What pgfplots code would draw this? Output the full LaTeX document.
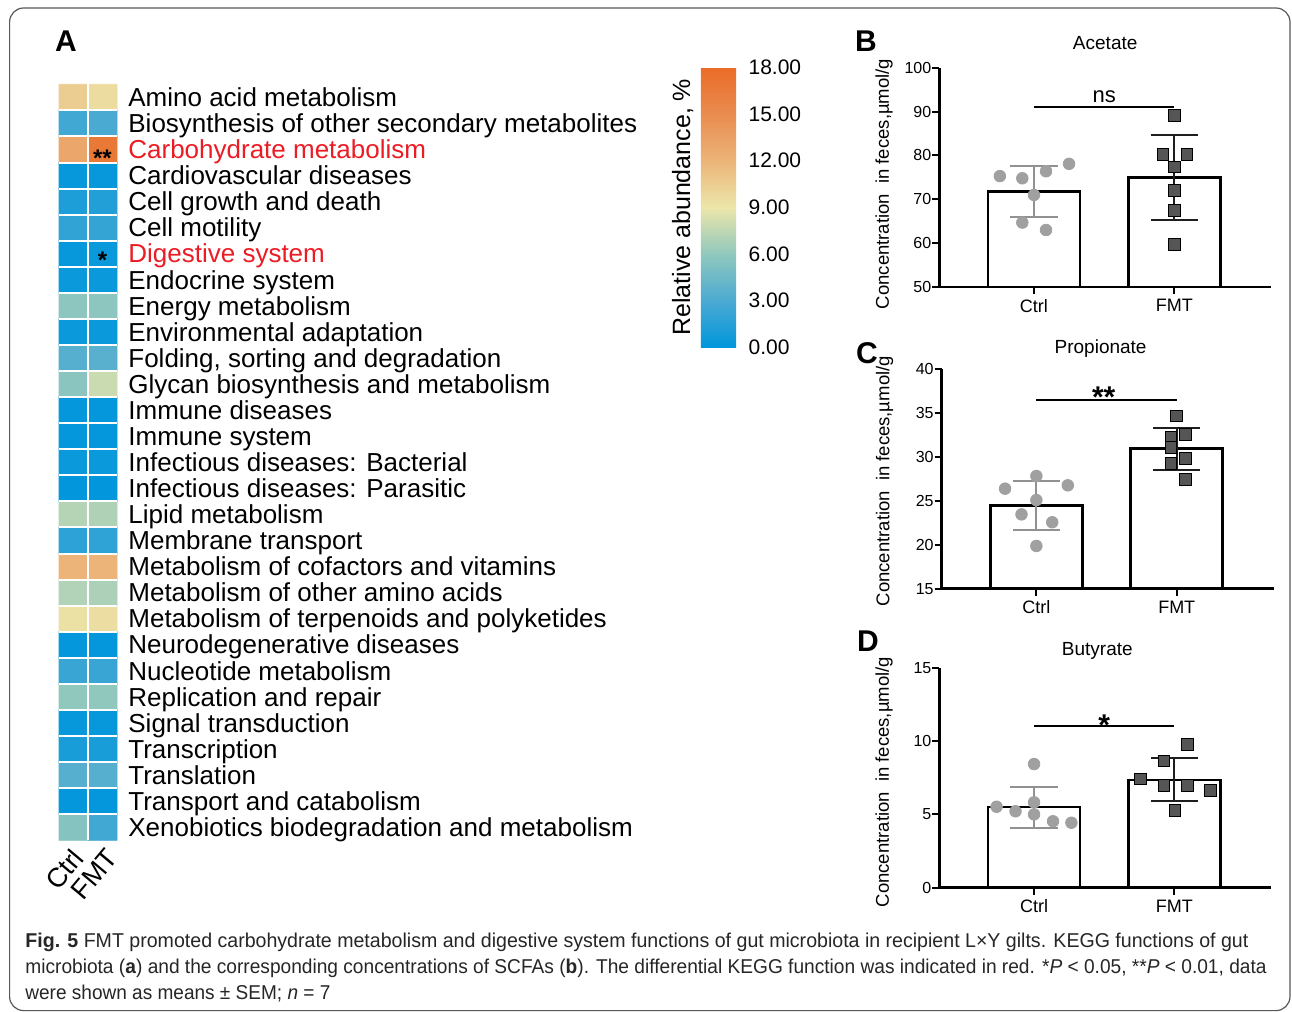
\documentclass[border=0pt]{standalone}
\usepackage{pgfplots}
\pgfplotsset{compat=1.18}
\usepackage{pgfplotstable}
\usepackage{graphicx}
\usepackage{fontspec}
\setmainfont{Liberation Sans}

\definecolor{kred}{RGB}{235,28,36}
\definecolor{cgray}{RGB}{160,160,160}
\definecolor{cgrayerr}{RGB}{145,145,145}
\definecolor{fsq}{RGB}{85,85,85}
\definecolor{ferr}{RGB}{30,30,30}

\pgfplotstableread{
x y c
0 0 10.5
1 0 9.6
0 1 2.6
1 1 3.0
0 2 13.0
1 2 16.8
0 3 0.3
1 3 0.3
0 4 1.2
1 4 1.4
0 5 2.0
1 5 2.1
0 6 0.3
1 6 0.4
0 7 0.4
1 7 0.4
0 8 5.8
1 8 5.8
0 9 0.4
1 9 0.4
0 10 3.5
1 10 3.6
0 11 5.7
1 11 7.9
0 12 0.2
1 12 0.2
0 13 0.2
1 13 0.2
0 14 0.4
1 14 0.4
0 15 0.1
1 15 0.1
0 16 7.2
1 16 7.0
0 17 1.8
1 17 1.9
0 18 12.0
1 18 12.0
0 19 7.1
1 19 6.9
0 20 9.3
1 20 9.5
0 21 0.2
1 21 0.2
0 22 2.3
1 22 2.3
0 23 6.0
1 23 6.0
0 24 0.3
1 24 0.3
0 25 1.0
1 25 1.0
0 26 3.5
1 26 3.5
0 27 0.2
1 27 0.2
0 28 5.5
1 28 2.6
}\keggtable

\pgfplotsset{
  barpanel/.style={
    scale only axis, width=166pt,
    axis x line*=bottom, axis y line*=left,
    axis line style={line width=1.4pt, -},
    xmin=-0.675, xmax=1.69,
    xtick={0,1}, xticklabels={Ctrl,FMT},
    tick pos=left, tick align=outside,
    major tick length=3.5pt,
    every tick/.style={line width=1pt, black},
    minor tick num=0,
    /pgf/number format/assume math mode=true,
    xticklabel style={inner sep=0pt, yshift=-2.4pt, font=\fontsize{9}{10}\selectfont},
    yticklabel style={inner sep=0pt, xshift=-0.3pt, font=\fontsize{8}{9}\selectfont},
    ylabel={Concentration\ \ in feces,µmol/g},
    ylabel style={anchor=center, inner sep=0pt, font=\fontsize{9.25}{10}\selectfont},
    title style={at={(axis description cs:0.5,1)}, anchor=base, inner sep=0pt, font=\fontsize{9.5}{11}\selectfont},
  },
  barstyle/.style={ybar, bar width=46pt, bar shift=0pt, fill=white, draw=black, line width=1.3pt},
  ctrlerr/.style={forget plot, draw=none, mark=none,
    error bars/.cd, y dir=both, y explicit,
    error bar style={draw=cgrayerr, line width=1pt},
    error mark options={rotate=90, draw=cgrayerr, line width=1pt, mark size=11.8pt}},
  fmterr/.style={forget plot, draw=none, mark=none,
    error bars/.cd, y dir=both, y explicit,
    error bar style={draw=ferr, line width=1pt},
    error mark options={rotate=90, draw=ferr, line width=1pt, mark size=11.8pt}},
  ctrlpts/.style={only marks, mark=*, mark size=2.9pt, mark options={fill=cgray, draw=cgray}},
  fmtpts/.style={only marks, mark=square*, mark size=2.9pt, mark options={fill=fsq, draw=black, line width=0.5pt}},
  sigline/.style={black, line width=1.1pt, mark=none},
}

\begin{document}
\begin{tikzpicture}
\path[use as bounding box] (0,0) rectangle (646pt,-506pt);
\fill[white] (0,0) rectangle (646pt,-506pt);
\draw[black!65, line width=0.6pt, rounded corners=7pt] (4.8pt,-4pt) rectangle (645pt,-505.3pt);

% ---------- Panel A: heatmap ----------
\begin{axis}[
  at={(29.5pt,-42.15pt)}, anchor=north west,
  scale only axis, width=29pt, height=378pt,
  xmin=-0.5, xmax=1.5, ymin=-0.5, ymax=28.5, y dir=reverse,
  axis line style={draw=none},
  major tick length=0pt, minor tick length=0pt,
  minor xtick={0.5}, minor ytick={0.5,1.5,...,27.5},
  xminorgrids=true, yminorgrids=true,
  minor grid style={white, line width=1pt},
  axis on top,
  xtick={-0.12,1.08}, xticklabels={Ctrl,FMT},
  ytick={0,...,28},
  yticklabels={Amino acid metabolism,
    Biosynthesis of other secondary metabolites,
    \textcolor{kred}{Carbohydrate metabolism},
    Cardiovascular diseases,
    Cell growth and death,
    Cell motility,
    \textcolor{kred}{Digestive system},
    Endocrine system,
    Energy metabolism,
    Environmental adaptation,
    {Folding, sorting and degradation},
    Glycan biosynthesis and metabolism,
    Immune diseases,
    Immune system,
    Infectious diseases: Bacterial,
    Infectious diseases: Parasitic,
    Lipid metabolism,
    Membrane transport,
    Metabolism of cofactors and vitamins,
    Metabolism of other amino acids,
    Metabolism of terpenoids and polyketides,
    Neurodegenerative diseases,
    Nucleotide metabolism,
    Replication and repair,
    Signal transduction,
    Transcription,
    Translation,
    Transport and catabolism,
    Xenobiotics biodegradation and metabolism},
  yticklabel pos=right,
  yticklabel style={anchor=base west, inner sep=0pt, xshift=5.5pt, yshift=-4.6pt, font=\fontsize{13}{14}\selectfont},
  xticklabel style={yshift=-3pt, rotate=50, anchor=north east, inner sep=0pt, font=\fontsize{13.5}{15}\selectfont},
  colormap={kegg}{rgb255=(0,150,220) rgb255=(75,170,210) rgb255=(145,200,190) rgb255=(236,230,170) rgb255=(236,180,120) rgb255=(233,140,80) rgb255=(234,108,40)},
  point meta min=0, point meta max=18,
  colorbar,
  colorbar/width=17.7pt,
  colorbar style={
    at={(parent axis.north east)}, anchor=north west,
    xshift=283.35pt, yshift=8.5pt,
    scale only axis, height=140pt,
    axis line style={draw=none},
    major tick length=0pt,
    ytick={0,3,...,18},
    yticklabel pos=right,
    yticklabel style={anchor=west, inner sep=0pt, xshift=6pt, font=\fontsize{10.5}{12}\selectfont},
    /pgf/number format/fixed, /pgf/number format/fixed zerofill,
    /pgf/number format/precision=2, /pgf/number format/assume math mode=true,
    ylabel={Relative abundance, \%},
    ylabel style={at={(axis description cs:-0.2,0.5)}, anchor=south, inner sep=0pt, font=\fontsize{12.5}{14}\selectfont},
  },
  clip=false,
]
\addplot[matrix plot*, point meta=explicit, mesh/cols=2]
  table[x=x, y=y, meta=c] {\keggtable};
\node[font=\bfseries\fontsize{12}{12}\selectfont, anchor=base] at (axis cs:1,2.67) {**};
\node[font=\bfseries\fontsize{12}{12}\selectfont, anchor=base] at (axis cs:1,6.57) {*};
\end{axis}
\node[font=\bfseries\fontsize{15}{15}\selectfont, anchor=base] at (33pt,-25.5pt) {A};

% ---------- Panel B: Acetate ----------
\begin{axis}[barpanel, at={(469.6pt,-143.5pt)}, anchor=south west, height=109.6pt,
  ymin=50, ymax=100, ytick={50,60,...,100},
  ylabel style={at={(axis description cs:-0.166,0.47)}},
  title=Acetate, title style={yshift=3.4pt}]
\addplot[barstyle] coordinates {(0,71.8) (1,75.0)};
\addplot[ctrlerr] coordinates {(0,71.8) +- (0,5.9)};
\addplot[fmterr] coordinates {(1,75.0) +- (0,9.7)};
\addplot[ctrlpts] coordinates {(-0.243,75.3) (-0.083,74.8) (0.086,76.4) (0.25,78.1) (0,71.0) (-0.083,64.7) (0.086,63.0)};
\addplot[fmtpts] coordinates {(1,89.1) (0.919,80.2) (1.09,80.2) (1,77.4) (1,72.0) (1,67.5) (1,59.7)};
\addplot[sigline] coordinates {(0,91.0) (1,91.0)};
\node[anchor=base, font=\fontsize{11}{12}\selectfont] at (axis cs:0.5,92.05) {ns};
\end{axis}
\node[font=\bfseries\fontsize{15}{15}\selectfont, anchor=base] at (433pt,-25.85pt) {B};

% ---------- Panel C: Propionate ----------
\begin{axis}[barpanel, at={(470.8pt,-294.35pt)}, anchor=south west, height=109.7pt,
  ymin=15, ymax=40, ytick={15,20,...,40},
  ylabel style={at={(axis description cs:-0.172,0.49)}},
  title=Propionate, title style={yshift=1.9pt, xshift=-3.5pt}]
\addplot[barstyle] coordinates {(0,24.5) (1,30.95)};
\addplot[ctrlerr] coordinates {(0,24.5) +- (0,2.8)};
\addplot[fmterr] coordinates {(1,30.95) +- (0,2.4)};
\addplot[ctrlpts] coordinates {(-0.223,26.4) (0,27.84) (0.224,26.78) (0,25.1) (-0.106,23.47) (0.113,22.57) (0,19.87)};
\addplot[fmtpts] coordinates {(1,34.68) (0.96,32.25) (1.064,32.55) (0.96,31.11) (1.064,29.86) (0.96,29.29) (1.064,27.47)};
\addplot[sigline] coordinates {(0,36.5) (1,36.5)};
\node[anchor=base, font=\bfseries\fontsize{15}{15}\selectfont] at (axis cs:0.48,35.6) {**};
\end{axis}
\node[font=\bfseries\fontsize{15}{15}\selectfont, anchor=base] at (433.5pt,-181.75pt) {C};

% ---------- Panel D: Butyrate ----------
\begin{axis}[barpanel, at={(469.65pt,-443.85pt)}, anchor=south west, height=110pt,
  ymin=0, ymax=15, ytick={0,5,10,15},
  ylabel style={at={(axis description cs:-0.166,0.48)}},
  title=Butyrate, title style={yshift=0.1pt, xshift=-4pt}]
\addplot[barstyle] coordinates {(0,5.5) (1,7.35)};
\addplot[ctrlerr] coordinates {(0,5.5) +- (0,1.4)};
\addplot[fmterr] coordinates {(1,7.35) +- (0,1.47)};
\addplot[ctrlpts] coordinates {(0,8.43) (-0.267,5.52) (-0.132,5.21) (0,5.82) (0,5.0) (0.135,4.53) (0.266,4.43)};
\addplot[fmtpts] coordinates {(1.095,9.78) (0.927,8.64) (0.76,7.41) (0.927,6.95) (1.095,6.95) (1.256,6.61) (1.005,5.25)};
\addplot[sigline] coordinates {(0,11.03) (1,11.03)};
\node[anchor=base, font=\bfseries\fontsize{15}{15}\selectfont] at (axis cs:0.5,10.4) {*};
\end{axis}
\node[font=\bfseries\fontsize{15}{15}\selectfont, anchor=base] at (434pt,-325.85pt) {D};

% ---------- Caption ----------
\begin{scope}[every node/.style={anchor=base west, inner sep=0pt, text=black!85}]
\node at (12.5pt,-473.5pt) {\resizebox{611.5pt}{\height}{\fontsize{10}{12}\selectfont\textbf{Fig. 5} FMT promoted carbohydrate metabolism and digestive system functions of gut microbiota in recipient L×Y gilts. KEGG functions of gut}};
\node at (12.5pt,-486.5pt) {\resizebox{620.5pt}{\height}{\fontsize{10}{12}\selectfont microbiota (\textbf{a}) and the corresponding concentrations of SCFAs (\textbf{b}). The differential KEGG function was indicated in red. *\textit{P} < 0.05, **\textit{P} < 0.01, data}};
\node at (12.5pt,-499.5pt) {\resizebox{152.5pt}{\height}{\fontsize{10}{12}\selectfont were shown as means ± SEM; \textit{n} = 7}};
\end{scope}
\end{tikzpicture}
\end{document}
